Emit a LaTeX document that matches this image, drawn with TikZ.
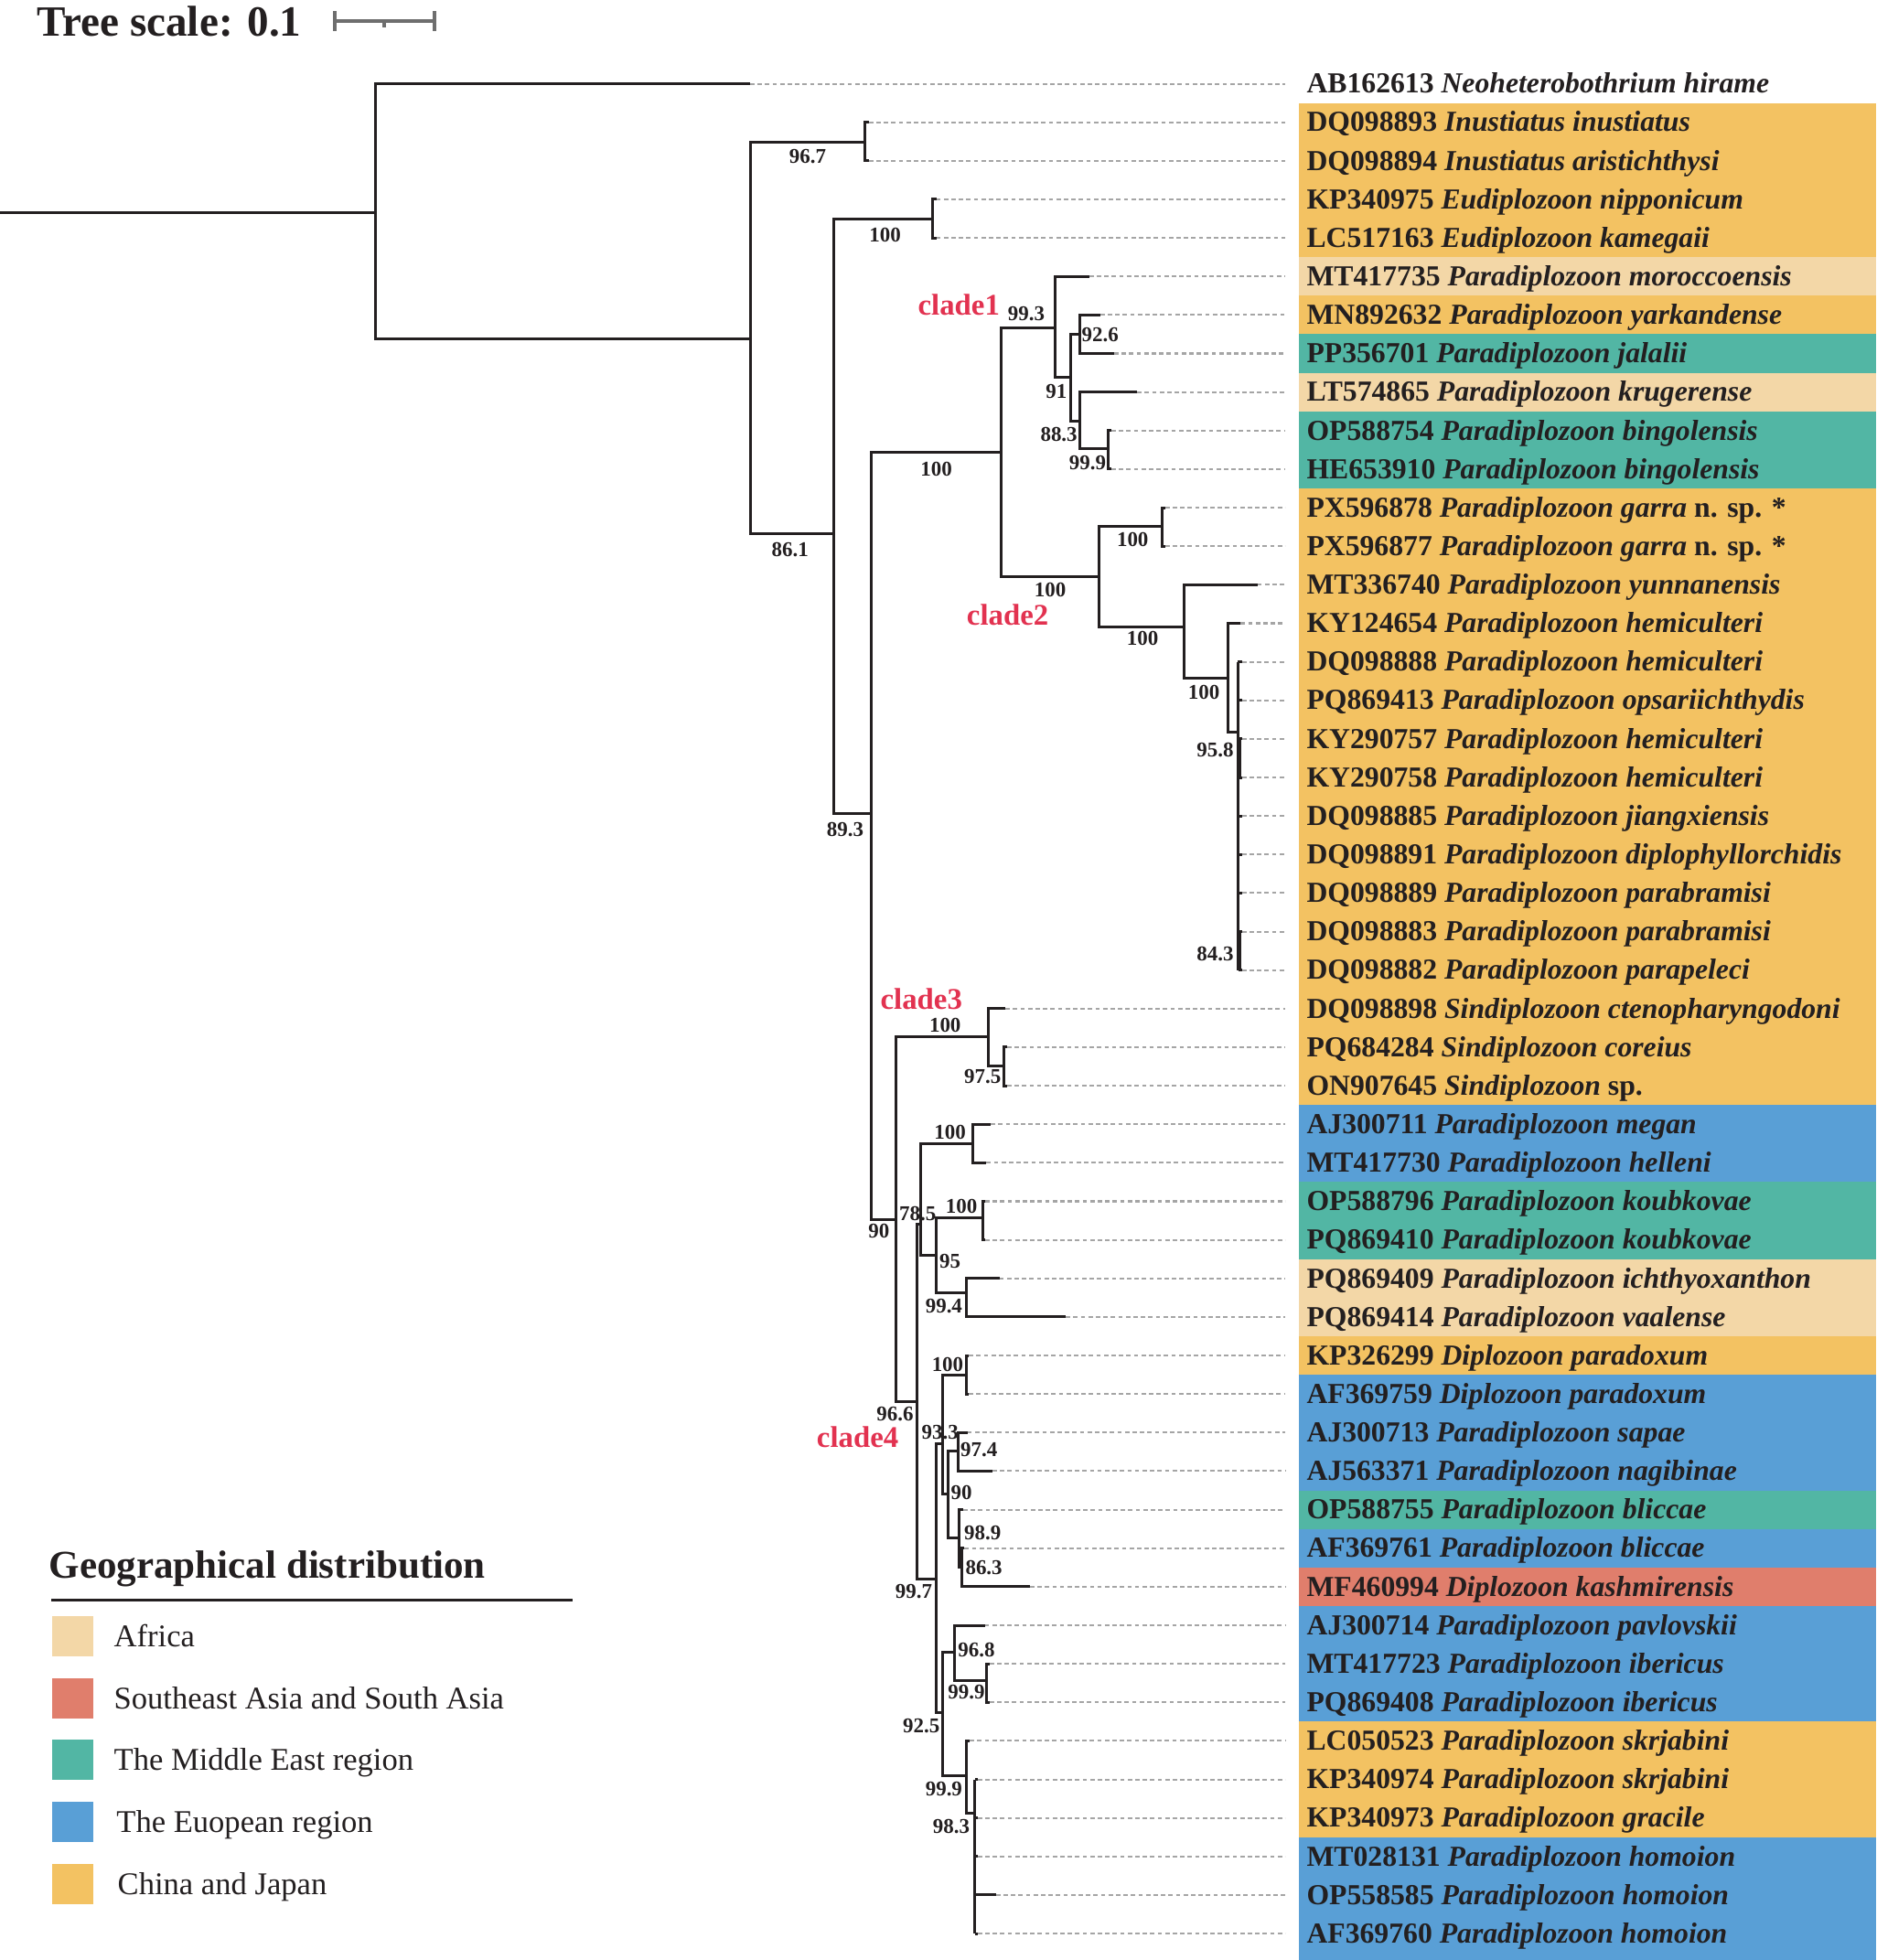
\documentclass[tikz,border=0pt]{standalone}
\usepackage{fontspec}
\setmainfont{Liberation Serif}
\definecolor{cA}{RGB}{243,215,167}
\definecolor{cS}{RGB}{224,126,108}
\definecolor{cM}{RGB}{82,182,164}
\definecolor{cE}{RGB}{89,159,214}
\definecolor{cC}{RGB}{243,194,98}
\definecolor{txt}{RGB}{35,31,32}
\definecolor{cladered}{RGB}{226,50,80}
\definecolor{dashgray}{RGB}{165,165,165}
\definecolor{scalegray}{RGB}{110,110,110}
\begin{document}
\begin{tikzpicture}[x=1pt,y=-1pt,
  br/.style={line width=2.2pt, draw=txt},
  dsh/.style={line width=1.5pt, draw=dashgray, dash pattern=on 3.5pt off 2.5pt},
  lab/.style={anchor=base west, inner sep=0pt, text=txt, font=\fontsize{23.2}{27}\selectfont\bfseries},
  bs/.style={inner sep=0pt, text=txt, font=\fontsize{16.8}{18}\selectfont\bfseries},
  clade/.style={inner sep=0pt, text=cladered, font=\fontsize{24}{26}\selectfont\bfseries},
  sq/.style={minimum size=32.4pt, inner sep=0pt, draw=none},
  legtxt/.style={anchor=base west, inner sep=0pt, text=txt, font=\fontsize{25.3}{28}\selectfont}]
\useasboundingbox (0,0) rectangle (1501,1568);

% ---- background colour boxes
\foreach \a/\b/\c in {2/5/cC, 6/6/cA, 7/7/cC, 8/8/cM, 9/9/cA, 10/11/cM, 12/27/cC, 28/29/cE, 30/31/cM, 32/33/cA, 34/34/cC, 35/37/cE, 38/38/cM, 39/39/cE, 40/40/cS, 41/43/cE, 44/46/cC}
  \fill[\c] (1039,{67+(\a-1.5)*30.83}) rectangle (1501,{67+(\b-0.5)*30.83});
\fill[cE] (1039,{67+45.5*30.83}) rectangle (1501,1568);

% ---- tree scale
\node[anchor=base west, inner sep=0pt, text=txt, font=\fontsize{34.5}{38}\selectfont\bfseries] (ts) at (29.4,28.8) {Tree scale: 0.1};
\coordinate (sb1) at (267.5,17);
\coordinate (sb2) at (347.3,17);
\coordinate (sbm) at (307.4,17);
\draw[line width=3pt, scalegray] (sb1) -- (sb2);
\draw[line width=3pt, scalegray] ([yshift=8pt]sb1) -- ([yshift=-8pt]sb1);
\draw[line width=3pt, scalegray] ([yshift=8pt]sb2) -- ([yshift=-8pt]sb2);
\draw[line width=3pt, scalegray] (sbm) -- ([yshift=-5pt]sbm);

% ---- leaf tips and dashed-line ends
\foreach \i/\x in {1/600, 2/695, 3/695, 4/749, 5/749, 6/871.3, 7/880, 8/891.2, 9/909.6, 10/889, 11/889, 12/932, 13/932, 14/1005.7, 15/992.4, 16/993.5, 17/993.5, 18/993.5, 19/993.5, 20/993.5, 21/993.5, 22/993.5, 23/993.5, 24/993.5, 25/804.2, 26/805.5, 27/805.5, 28/792.5, 29/789, 30/788, 31/788, 32/799.4, 33/852.5, 34/775, 35/775, 36/773.8, 37/793.8, 38/770.5, 39/771.5, 40/823.8, 41/787.7, 42/791.5, 43/791.5, 44/775.7, 45/782, 46/782, 47/782, 48/796.6, 49/782}
{
  \coordinate (t\i) at (\x,{67+(\i-1)*30.83});
  \coordinate (d\i) at (1028,{67+(\i-1)*30.83});
}

% ---- internal nodes
\coordinate (r0) at (0,170);
\coordinate (N0) at (300,170);
\coordinate (N1) at (600,271.3);
\coordinate (N2) at (692,113.9);
\coordinate (N3) at (667,427);
\coordinate (N4) at (746,175.2);
\coordinate (N5) at (696.6,651);
\coordinate (N6) at (800.5,361.8);
\coordinate (C1) at (844,262.2);
\coordinate (N91) at (856.6,302);
\coordinate (N926) at (863.6,267.1);
\coordinate (N883) at (863.6,336.6);
\coordinate (N999a) at (886.6,359.1);
\coordinate (C2) at (879,461.6);
\coordinate (N100b) at (929.4,421.1);
\coordinate (N100c) at (947,501.6);
\coordinate (N100d) at (982,542.6);
\coordinate (N958) at (990,585.8);
\coordinate (Np1) at (991.8,606.5);
\coordinate (Np2) at (992,760.7);
\coordinate (N7) at (716.5,975.8);
\coordinate (C3) at (790.5,829.4);
\coordinate (N975) at (803.1,852.6);
\coordinate (N966) at (733.8,1121);
\coordinate (N785) at (736.5,979.5);
\coordinate (N100f) at (778,914.8);
\coordinate (N95) at (748.6,1003.9);
\coordinate (N100g) at (786,973.9);
\coordinate (N994) at (773,1034.3);
\coordinate (N997) at (749.2,1263.3);
\coordinate (N933) at (754,1155);
\coordinate (N925) at (754,1370);
\coordinate (N100h) at (773,1100);
\coordinate (N90b) at (758.4,1195.4);
\coordinate (N974) at (766.5,1160.5);
\coordinate (N989) at (767.3,1230);
\coordinate (N863) at (769.5,1254);
\coordinate (N968) at (763.7,1321.5);
\coordinate (N999b) at (789.1,1344.2);
\coordinate (N999c) at (773,1420.8);
\coordinate (N983) at (779.9,1450.9);

% ---- dashed leaf extensions
\foreach \k in {1,...,49} \draw[dsh] (t\k) -- (d\k);

% ---- branches
\draw[br] (r0) -- (N0);
\draw[br] (t1) -| (N0) |- (N1);
\draw[br] (N2) -| (N1) |- (N3);
\draw[br] (t2) -| (N2) |- (t3);
\draw[br] (N4) -| (N3) |- (N5);
\draw[br] (t4) -| (N4) |- (t5);
\draw[br] (N6) -| (N5) |- (N7);
\draw[br] (C1) -| (N6) |- (C2);
\draw[br] (t6) -| (C1) |- (N91);
\draw[br] (N926) -| (N91) |- (N883);
\draw[br] (t7) -| (N926) |- (t8);
\draw[br] (t9) -| (N883) |- (N999a);
\draw[br] (t10) -| (N999a) |- (t11);
\draw[br] (N100b) -| (C2) |- (N100c);
\draw[br] (t12) -| (N100b) |- (t13);
\draw[br] (t14) -| (N100c) |- (N100d);
\draw[br] (t15) -| (N100d) |- (N958);
\draw[br] (N958 |- t16) -- (N958 |- t24);
\foreach \k in {16,17,20,21,22} \draw[br] (N958 |- t\k) -- (t\k);
\draw[br] (t18) -| (Np1) |- (t19);
\draw[br] (t23) -| (Np2) |- (t24);
\draw[br] (C3) -| (N7) |- (N966);
\draw[br] (t25) -| (C3) |- (N975);
\draw[br] (t26) -| (N975) |- (t27);
\draw[br] (N785) -| (N966) |- (N997);
\draw[br] (N100f) -| (N785) |- (N95);
\draw[br] (t28) -| (N100f) |- (t29);
\draw[br] (N100g) -| (N95) |- (N994);
\draw[br] (t30) -| (N100g) |- (t31);
\draw[br] (t32) -| (N994) |- (t33);
\draw[br] (N933) -| (N997) |- (N925);
\draw[br] (N100h) -| (N933) |- (N90b);
\draw[br] (t34) -| (N100h) |- (t35);
\draw[br] (N974) -| (N90b) |- (N989);
\draw[br] (t36) -| (N974) |- (t37);
\draw[br] (t38) -| (N989) |- (N863);
\draw[br] (t39) -| (N863) |- (t40);
\draw[br] (N968) -| (N925) |- (N999c);
\draw[br] (t41) -| (N968) |- (N999b);
\draw[br] (t42) -| (N999b) |- (t43);
\draw[br] (t44) -| (N999c) |- (N983);
\draw[br] (N983 |- t45) -- (N983 |- t49);
\foreach \k in {45,...,49} \draw[br] (N983 |- t\k) -- (t\k);

% ---- support values
\node[bs] (b1) at (646,125) {96.7};
\node[bs] (b2) at (708,188) {100};
\node[bs] (b3) at (632,440) {86.1};
\node[bs] (b4) at (676,664) {89.3};
\node[bs] (b5) at (749,375) {100};
\node[bs] (b6) at (821,251) {99.3};
\node[bs] (b7) at (880,267.6) {92.6};
\node[bs] (b8) at (845,313) {91};
\node[bs] (b9) at (847,347.6) {88.3};
\node[bs] (b10) at (870,370) {99.9};
\node[bs] (b11) at (840,472) {100};
\node[bs] (b12) at (906,432) {100};
\node[bs] (b13) at (914,511) {100};
\node[bs] (b14) at (963,554) {100};
\node[bs] (b15) at (972,600) {95.8};
\node[bs] (b16) at (972,763) {84.3};
\node[bs] (b17) at (756,820) {100};
\node[bs] (b18) at (786,861) {97.5};
\node[bs] (b19) at (703,985) {90};
\node[bs] (b20) at (760,906) {100};
\node[bs] (b21) at (734,971) {78.5};
\node[bs] (b22) at (769,965) {100};
\node[bs] (b23) at (760,1009) {95};
\node[bs] (b24) at (755,1045) {99.4};
\node[bs] (b25) at (716,1131) {96.6};
\node[bs] (b26) at (758,1092) {100};
\node[bs] (b27) at (752,1146) {93.3};
\node[bs] (b28) at (783,1160) {97.4};
\node[bs] (b29) at (769,1194) {90};
\node[bs] (b30) at (786,1226) {98.9};
\node[bs] (b31) at (787,1254) {86.3};
\node[bs] (b32) at (731,1273) {99.7};
\node[bs] (b33) at (781,1320) {96.8};
\node[bs] (b34) at (773,1354) {99.9};
\node[bs] (b35) at (737,1381) {92.5};
\node[bs] (b36) at (755,1431) {99.9};
\node[bs] (b37) at (761,1461) {98.3};

% ---- clade labels
\node[clade] (cl1) at (767,244) {clade1};
\node[clade] (cl2) at (806,492) {clade2};
\node[clade] (cl3) at (737,799) {clade3};
\node[clade] (cl4) at (686,1150) {clade4};

% ---- taxon labels
\foreach \i/\txt in {
 1/{AB162613 \textit{Neoheterobothrium hirame}},
 2/{DQ098893 \textit{Inustiatus inustiatus}},
 3/{DQ098894 \textit{Inustiatus aristichthysi}},
 4/{KP340975 \textit{Eudiplozoon nipponicum}},
 5/{LC517163 \textit{Eudiplozoon kamegaii}},
 6/{MT417735 \textit{Paradiplozoon moroccoensis}},
 7/{MN892632 \textit{Paradiplozoon yarkandense}},
 8/{PP356701 \textit{Paradiplozoon jalalii}},
 9/{LT574865 \textit{Paradiplozoon krugerense}},
 10/{OP588754 \textit{Paradiplozoon bingolensis}},
 11/{HE653910 \textit{Paradiplozoon bingolensis}},
 12/{PX596878 \textit{Paradiplozoon garra} n. sp. *},
 13/{PX596877 \textit{Paradiplozoon garra} n. sp. *},
 14/{MT336740 \textit{Paradiplozoon yunnanensis}},
 15/{KY124654 \textit{Paradiplozoon hemiculteri}},
 16/{DQ098888 \textit{Paradiplozoon hemiculteri}},
 17/{PQ869413 \textit{Paradiplozoon opsariichthydis}},
 18/{KY290757 \textit{Paradiplozoon hemiculteri}},
 19/{KY290758 \textit{Paradiplozoon hemiculteri}},
 20/{DQ098885 \textit{Paradiplozoon jiangxiensis}},
 21/{DQ098891 \textit{Paradiplozoon diplophyllorchidis}},
 22/{DQ098889 \textit{Paradiplozoon parabramisi}},
 23/{DQ098883 \textit{Paradiplozoon parabramisi}},
 24/{DQ098882 \textit{Paradiplozoon parapeleci}},
 25/{DQ098898 \textit{Sindiplozoon ctenopharyngodoni}},
 26/{PQ684284 \textit{Sindiplozoon coreius}},
 27/{ON907645 \textit{Sindiplozoon} sp.},
 28/{AJ300711 \textit{Paradiplozoon megan}},
 29/{MT417730 \textit{Paradiplozoon helleni}},
 30/{OP588796 \textit{Paradiplozoon koubkovae}},
 31/{PQ869410 \textit{Paradiplozoon koubkovae}},
 32/{PQ869409 \textit{Paradiplozoon ichthyoxanthon}},
 33/{PQ869414 \textit{Paradiplozoon vaalense}},
 34/{KP326299 \textit{Diplozoon paradoxum}},
 35/{AF369759 \textit{Diplozoon paradoxum}},
 36/{AJ300713 \textit{Paradiplozoon sapae}},
 37/{AJ563371 \textit{Paradiplozoon nagibinae}},
 38/{OP588755 \textit{Paradiplozoon bliccae}},
 39/{AF369761 \textit{Paradiplozoon bliccae}},
 40/{MF460994 \textit{Diplozoon kashmirensis}},
 41/{AJ300714 \textit{Paradiplozoon pavlovskii}},
 42/{MT417723 \textit{Paradiplozoon ibericus}},
 43/{PQ869408 \textit{Paradiplozoon ibericus}},
 44/{LC050523 \textit{Paradiplozoon skrjabini}},
 45/{KP340974 \textit{Paradiplozoon skrjabini}},
 46/{KP340973 \textit{Paradiplozoon gracile}},
 47/{MT028131 \textit{Paradiplozoon homoion}},
 48/{OP558585 \textit{Paradiplozoon homoion}},
 49/{AF369760 \textit{Paradiplozoon homoion}}}
  \node[lab] (lab\i) at (1045,{67+(\i-1)*30.83+7.5}) {\txt};

% ---- legend
\node[anchor=base west, inner sep=0pt, text=txt, font=\fontsize{31.5}{36}\selectfont\bfseries] (lgt) at (39,1262.4) {Geographical distribution};
\coordinate (lr1) at (41,1280);
\coordinate (lr2) at (458,1280);
\draw[line width=2.5pt, txt] (lr1) -- (lr2);
\node[sq, fill=cA] (sqA) at (58.2,1309.2) {};
\node[sq, fill=cS] (sqS) at (58.2,1358.7) {};
\node[sq, fill=cM] (sqM) at (58.2,1408) {};
\node[sq, fill=cE] (sqE) at (58.2,1457.3) {};
\node[sq, fill=cC] (sqC) at (58.2,1507) {};
\node[legtxt] (lgA) at (91,1317.7) {Africa};
\node[legtxt] (lgS) at (91,1367.2) {Southeast Asia and South Asia};
\node[legtxt] (lgM) at (91,1416.5) {The Middle East region};
\node[legtxt] (lgE) at (93,1465.8) {The Euopean region};
\node[legtxt] (lgC) at (94,1515.5) {China and Japan};
\end{tikzpicture}
\end{document}
